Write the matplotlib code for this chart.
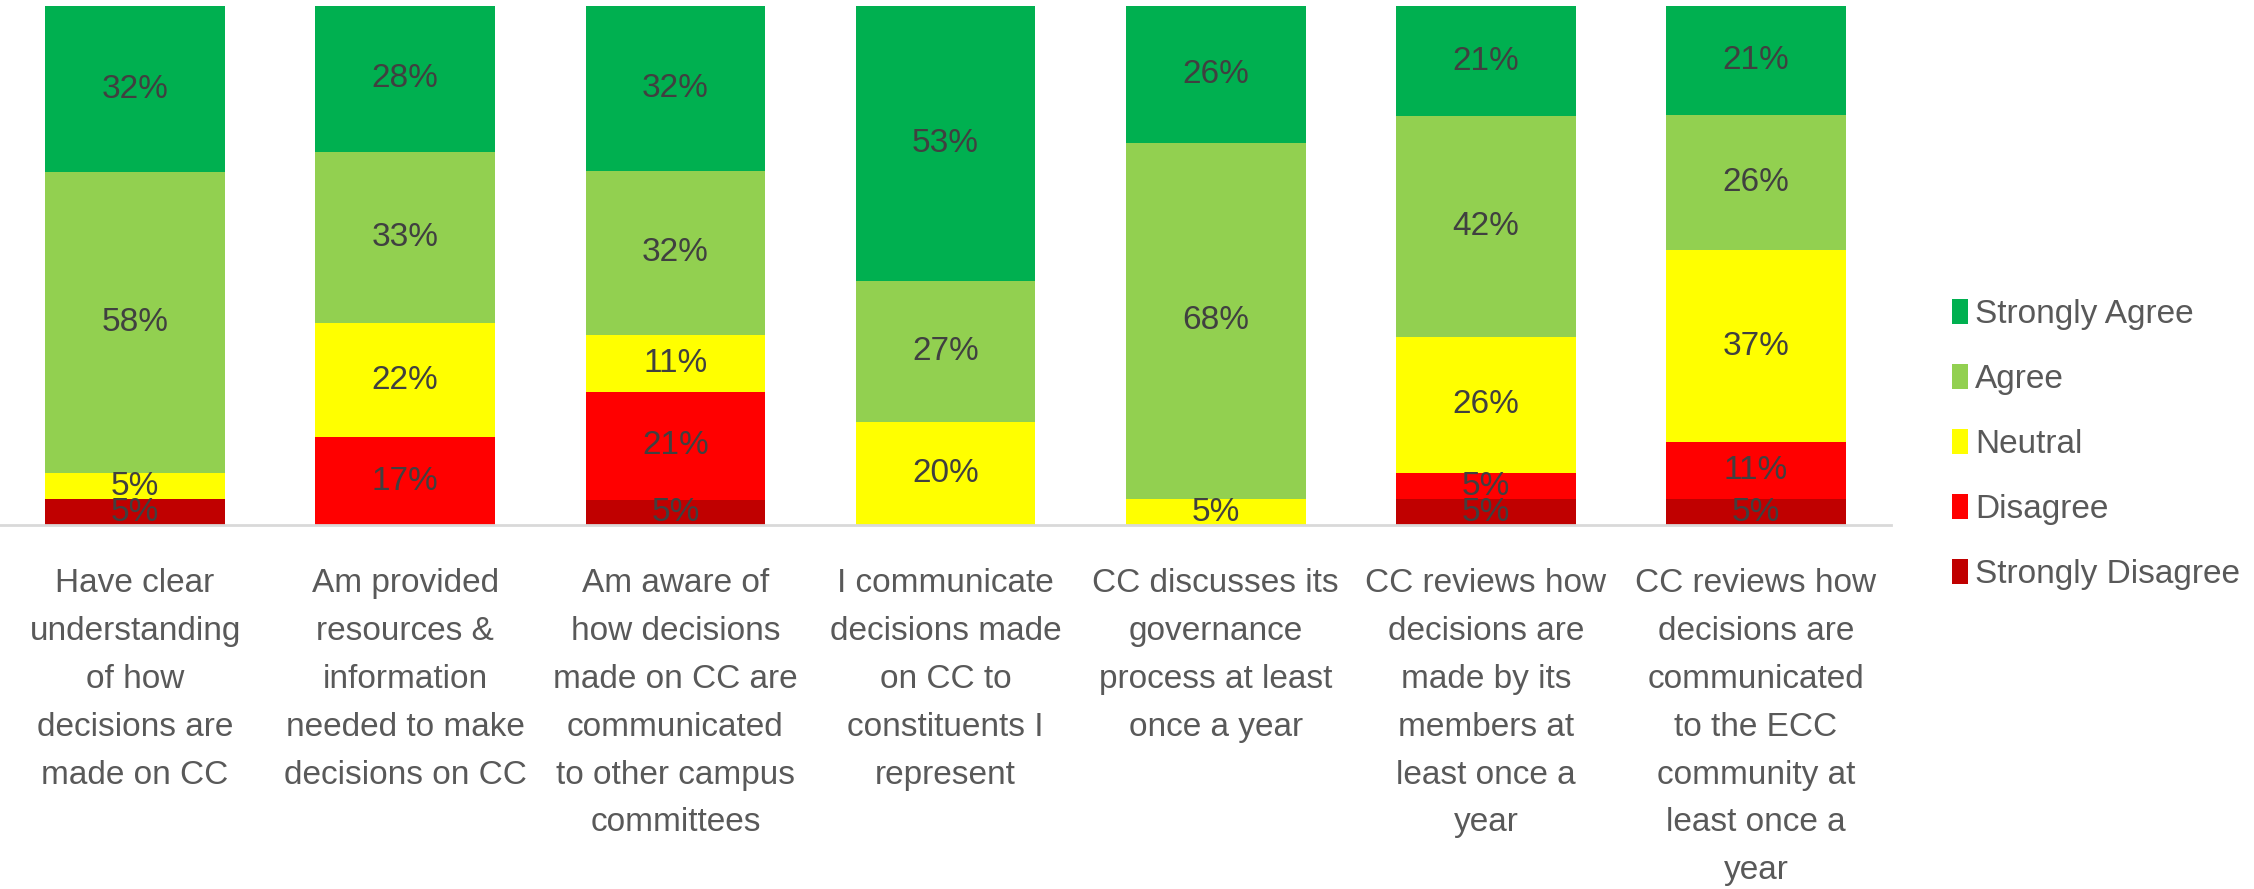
import matplotlib
matplotlib.use("Agg")
import matplotlib.pyplot as plt
import numpy as np

plt.rcParams['font.family'] = ['Liberation Sans', 'DejaVu Sans']

categories = [
    "Have clear\nunderstanding\nof how\ndecisions are\nmade on CC",
    "Am provided\nresources &\ninformation\nneeded to make\ndecisions on CC",
    "Am aware of\nhow decisions\nmade on CC are\ncommunicated\nto other campus\ncommittees",
    "I communicate\ndecisions made\non CC to\nconstituents I\nrepresent",
    "CC discusses its\ngovernance\nprocess at least\nonce a year",
    "CC reviews how\ndecisions are\nmade by its\nmembers at\nleast once a\nyear",
    "CC reviews how\ndecisions are\ncommunicated\nto the ECC\ncommunity at\nleast once a\nyear",
]

# stacking order, bottom to top
series_names = ["Strongly Disagree", "Disagree", "Neutral", "Agree", "Strongly Agree"]
strongly_disagree = [5, 0, 5, 0, 0, 5, 5]
disagree = [0, 17, 21, 0, 0, 5, 11]
neutral = [5, 22, 11, 20, 5, 26, 37]
agree = [58, 33, 32, 27, 68, 42, 26]
strongly_agree = [32, 28, 32, 53, 26, 21, 21]

colors = ["#C00000", "#FF0000", "#FFFF00", "#92D050", "#00B050"]

series = np.array([strongly_disagree, disagree, neutral, agree, strongly_agree], dtype=float)
totals = series.sum(axis=0)
shares = series / totals  # 100% stacked

fig = plt.figure(figsize=(22.54, 8.89), dpi=100)
ax = fig.add_axes([0.0, 0.409, 0.839, 0.584])

x = np.arange(len(categories))
bottom = np.zeros(len(categories))
handles = []
for name, raw, h, c in zip(series_names, series, shares, colors):
    bars = ax.bar(x, h, width=0.665, bottom=bottom, color=c, label=name)
    labels = [f"{int(v)}%" if v > 0 else "" for v in raw]
    ax.bar_label(bars, labels=labels, label_type='center', fontsize=24, color="#404040")
    bottom += h
    handles.append(bars)

ax.set_xlim(-0.5, len(categories) - 0.5)
ax.set_ylim(0, 1)
ax.set_yticks([])
ax.set_xticks(x)
ax.set_xticklabels(categories, fontsize=24, color="#595959", linespacing=1.7)
ax.tick_params(axis='x', length=0, pad=31)
for s in ["top", "left", "right"]:
    ax.spines[s].set_visible(False)
ax.spines["bottom"].set_color("#D9D9D9")
ax.spines["bottom"].set_linewidth(2)

leg = fig.legend(handles[::-1], series_names[::-1], loc='center left',
                 bbox_to_anchor=(0.860, 0.50), frameon=False, fontsize=24,
                 handlelength=0.5, handleheight=0.75, handletextpad=0.2,
                 labelspacing=1.02, borderaxespad=0)
for t in leg.get_texts():
    t.set_color("#595959")

fig.savefig("out.png", dpi=100)
